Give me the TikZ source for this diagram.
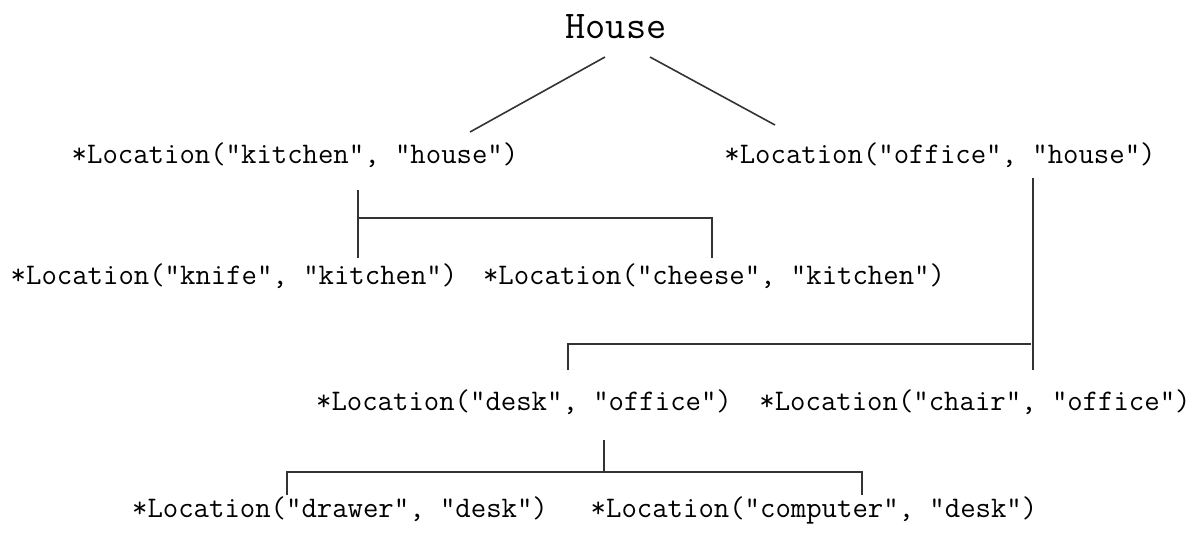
\documentclass[tikz,border=0pt]{standalone}
\usepackage{fontspec}
\usetikzlibrary{calc}

\begin{document}
\begin{tikzpicture}[x=0.5pt,y=-0.5pt,line width=0.8pt]

                \tikzset{every node/.style={font=\ttfamily\fontsize{14.95}{17}\selectfont, inner sep=0pt, anchor=base}}
                \tikzset{branch/.style={draw=black!80}}

                \useasboundingbox (0,0) rectangle (1204,532);

                \node (house) at (616,38) {\fontsize{19.6}{22}\selectfont House};
                \node (kitchen) at (295,163) {*Location("kitchen", "house")};
                \node (office) at (940,163) {*Location("office", "house")};
                \node (knife) at (234,284) {*Location("knife", "kitchen")};
                \node (cheese) at (714,284) {*Location("cheese", "kitchen")};
                \node (desk) at (524,410) {*Location("desk", "office")};
                \node (chair) at (975,410) {*Location("chair", "office")};
                \node (drawer) at (340,517) {*Location("drawer", "desk")};
                \node (computer) at (814,517) {*Location("computer", "desk")};

                % house
                \path[branch] ($(house.base)+(-11,19)$) -- ($(kitchen.base)+(175,-31)$);
                \path[branch] ($(house.base)+(34,19)$) -- ($(office.base)+(-165,-38)$);

                % kitchen
                \path[branch] ($(kitchen.base)+(63,27)$) -- ($(knife.base)+(124,-26)$);
                \path[branch] ($(knife.base)+(124,-66)$) -| ($(cheese.base)+(-2,-26)$);

                % office
                \path[branch] ($(office.base)+(93,15)$) -- ($(chair.base)+(58,-40)$);
                \path[branch] ($(chair.base)+(56,-66)$) -| ($(desk.base)+(44,-40)$);

                % desk
                \path[branch] ($(desk.base)+(80,30)$) -- ($(desk.base)+(80,62)$);
                \path[branch] ($(drawer.base)+(-53,-22)$) |- ($(desk.base)+(80,62)$) -| ($(computer.base)+(48,-22)$);
            \end{tikzpicture}
\end{document}
